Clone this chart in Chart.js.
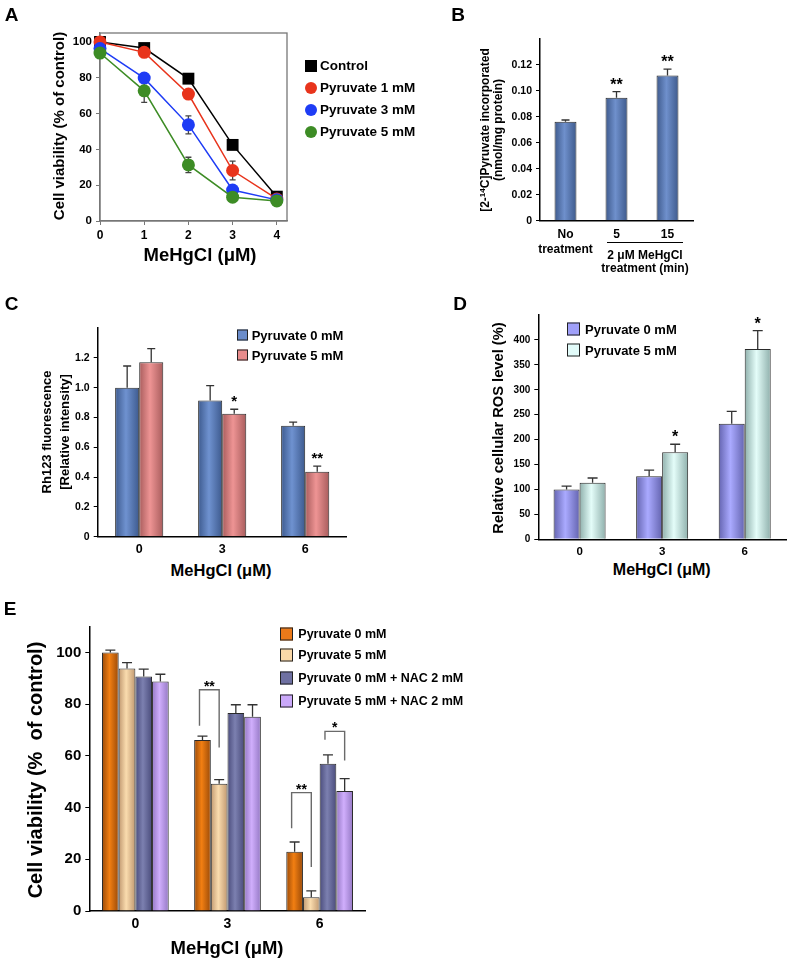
<!DOCTYPE html>
<html>
<head>
<meta charset="utf-8">
<title>MeHgCl and pyruvate</title>
<script src="https://cdn.jsdelivr.net/npm/chart.js"></script>
<style>
  body { margin: 0; background: #fff; }
  #fig { position: relative; width: 787px; height: 962px; font-family: "Liberation Sans", Arial, sans-serif; font-weight: bold; color: #000; overflow: hidden; }
  #fig canvas { position: absolute; }
  .t { position: absolute; white-space: pre; line-height: 1; transform: translate(-50%, -50%); }
  .rot { transform: translate(-50%, -50%) rotate(-90deg); }
  .leg { position: absolute; white-space: nowrap; line-height: 1; transform: translateY(-50%); }
  .sw { position: absolute; box-sizing: border-box; transform: translateY(-50%); }
</style>
</head>
<body>
<div id="fig">
  <canvas id="cA" width="400" height="262" style="left:0;top:0"></canvas>
  <canvas id="cB" width="387" height="280" style="left:400px;top:0"></canvas>
  <canvas id="cC" width="400" height="280" style="left:0;top:280px"></canvas>
  <canvas id="cD" width="387" height="280" style="left:400px;top:280px"></canvas>
  <canvas id="cE" width="560" height="382" style="left:0;top:580px"></canvas>
</div>
<script>
// ---- A: viability vs dose
const dosesA = [0, 1, 2, 3, 4];
const seriesA = ['Control', 'Pyruvate 1 mM', 'Pyruvate 3 mM', 'Pyruvate 5 mM'];
const controlA = [100, 96.6, 79.5, 42.5, 13.6];
const pyr1A = [100, 94.2, 70.9, 28.2, 12.3];
const pyr3A = [96.3, 79.8, 53.7, 17.3, 11.8];
const pyr5A = [93.8, 72.7, 31.3, 13.3, 11.2];
const controlErrA = [1, 1, 1.5, 1.5, 1];
const pyr1ErrA = [1, 1.5, 2, 5.2, 1];
const pyr3ErrA = [1, 1.5, 5, 2, 1];
const pyr5ErrA = [1, 6.5, 4.3, 1.5, 1];
const xTicksA = [0, 1, 2, 3, 4];
const yTicksA = [0, 20, 40, 60, 80, 100];

// ---- B: pyruvate uptake
const groupsB = [['No', 'treatment'], '5', '15'];
const uptakeB = [0.0763, 0.0948, 0.1118];
const uptakeErrB = [0.0013, 0.0046, 0.005];
const starsB = ['', '**', '**'];
const yTicksB = [0, 0.02, 0.04, 0.06, 0.08, 0.10, 0.12];

// ---- C: Rh123
const dosesC = ['0', '3', '6'];
const seriesC = ['Pyruvate 0 mM', 'Pyruvate 5 mM'];
const rh0C = [1.0, 0.914, 0.745];
const rh5C = [1.171, 0.825, 0.435];
const rh0ErrC = [0.145, 0.1, 0.024];
const rh5ErrC = [0.09, 0.03, 0.038];
const starsC = ['', '*', '**'];
const yTicksC = [0, 0.2, 0.4, 0.6, 0.8, 1.0, 1.2];

// ---- D: ROS
const dosesD = ['0', '3', '6'];
const seriesD = ['Pyruvate 0 mM', 'Pyruvate 5 mM'];
const ros0D = [100, 126.7, 232];
const ros5D = [113.3, 174.7, 382];
const ros0ErrD = [6.7, 12, 24.7];
const ros5ErrD = [9.7, 16, 36.7];
const starsD = ['', '*', '*'];
const yTicksD = [0, 50, 100, 150, 200, 250, 300, 350, 400];

// ---- E: viability with NAC
const dosesE = ['0', '3', '6'];
const seriesE = ['Pyruvate 0 mM', 'Pyruvate 5 mM', 'Pyruvate 0 mM + NAC 2 mM', 'Pyruvate 5 mM + NAC 2 mM'];
const via0E = [100, 66.2, 22.9];
const via5E = [93.8, 49.2, 5.3];
const viaNac0E = [90.7, 76.6, 57.0];
const viaNac5E = [88.8, 75.2, 46.4];
const via0ErrE = [0.9, 1.5, 3.8];
const via5ErrE = [2.3, 1.6, 2.5];
const viaNac0ErrE = [2.9, 3.2, 3.4];
const viaNac5ErrE = [2.8, 4.6, 4.8];
const yTicksE = [0, 20, 40, 60, 80, 100];
// significance brackets: group, left/right dataset, leg ends and top (in % units), label
const brGroupE = [1, 2, 2];
const brLeftE = [0, 0, 2];
const brRightE = [1, 1, 3];
const brLeftEndE = [71.7, 32, 66.3];
const brTopE = [85.6, 45.8, 69.5];
const brRightEndE = [63.3, 17, 58.2];
const brStarsE = ['**', '**', '*'];

const FAM = 'Liberation Sans';
const font = size => ({ family: FAM, size: size, weight: 'bold' });
const fig = document.getElementById('fig');

function text(str, x, y, size, rot) {
  const d = document.createElement('div');
  d.className = rot ? 't rot' : 't';
  d.style.left = x + 'px';
  d.style.top = y + 'px';
  d.style.fontSize = size + 'px';
  d.innerHTML = str;
  fig.appendChild(d);
}

function legend(x, tx, ys, labels, colors, size, box, round) {
  labels.forEach((lab, i) => {
    const s = document.createElement('div');
    s.className = 'sw';
    s.style.left = x + 'px';
    s.style.top = ys[i] + 'px';
    s.style.width = box + 'px';
    s.style.height = box + 'px';
    s.style.background = colors[i];
    if (round && round[i]) s.style.borderRadius = '50%';
    else if (!round) s.style.border = '1px solid #222';
    fig.appendChild(s);
    const d = document.createElement('div');
    d.className = 'leg';
    d.style.left = tx + 'px';
    d.style.top = ys[i] + 'px';
    d.style.fontSize = size + 'px';
    d.textContent = lab;
    fig.appendChild(d);
  });
}

// shaded cylinder look for bars
const barLook = {
  id: 'barLook',
  beforeDatasetsDraw(chart) {
    const c = chart.ctx;
    chart.data.datasets.forEach((ds, i) => {
      if (!ds.shade) return;
      chart.getDatasetMeta(i).data.forEach(el => {
        const g = c.createLinearGradient(el.x - el.width / 2, 0, el.x + el.width / 2, 0);
        g.addColorStop(0, ds.shade[0]);
        g.addColorStop(0.45, ds.shade[1]);
        g.addColorStop(1, ds.shade[0]);
        el.options = Object.assign({}, el.options, { backgroundColor: g });
      });
    });
  }
};

function drawWhiskers(chart, opts) {
  const c = chart.ctx, y = chart.scales.y;
  chart.data.datasets.forEach((ds, i) => {
    if (!ds.errors) return;
    chart.getDatasetMeta(i).data.forEach((el, j) => {
      const raw = ds.data[j];
      const v = typeof raw === 'object' ? raw.y : raw;
      const top = y.getPixelForValue(v + ds.errors[j]);
      const bot = opts.both ? y.getPixelForValue(v - ds.errors[j]) : el.y;
      const cap = opts.cap;
      c.save();
      c.strokeStyle = opts.color;
      c.lineWidth = 1.3;
      c.beginPath();
      c.moveTo(el.x, bot); c.lineTo(el.x, top);
      c.moveTo(el.x - cap, top); c.lineTo(el.x + cap, top);
      if (opts.both) { c.moveTo(el.x - cap, bot); c.lineTo(el.x + cap, bot); }
      c.stroke();
      if (ds.stars && ds.stars[j]) {
        c.fillStyle = '#000';
        c.font = 'bold ' + opts.starSize + 'px "' + FAM + '"';
        c.textAlign = 'center';
        c.textBaseline = 'alphabetic';
        c.fillText(ds.stars[j], el.x, top - opts.starGap);
      }
      c.restore();
    });
  });
}

const whiskers = {
  id: 'whiskers',
  beforeDatasetsDraw(chart, args, opts) { if (opts.behind) drawWhiskers(chart, opts); },
  afterDatasetsDraw(chart, args, opts) { if (!opts.behind) drawWhiskers(chart, opts); }
};

const frame = {
  id: 'frame',
  beforeDatasetsDraw(chart) {
    const a = chart.chartArea, c = chart.ctx;
    c.save();
    c.strokeStyle = '#777';
    c.lineWidth = 1.3;
    c.strokeRect(a.left, a.top, a.right - a.left, a.bottom - a.top);
    c.restore();
  }
};

const brackets = {
  id: 'brackets',
  afterDatasetsDraw(chart) {
    const c = chart.ctx, y = chart.scales.y;
    brStarsE.forEach((lab, k) => {
      const g = brGroupE[k];
      const xl = chart.getDatasetMeta(brLeftE[k]).data[g].x - 3;
      const xr = chart.getDatasetMeta(brRightE[k]).data[g].x;
      const yt = y.getPixelForValue(brTopE[k]);
      c.save();
      c.strokeStyle = '#6a6a6a';
      c.lineWidth = 1.4;
      c.beginPath();
      c.moveTo(xl, y.getPixelForValue(brLeftEndE[k]));
      c.lineTo(xl, yt);
      c.lineTo(xr, yt);
      c.lineTo(xr, y.getPixelForValue(brRightEndE[k]));
      c.stroke();
      c.fillStyle = '#000';
      c.font = 'bold 14px "' + FAM + '"';
      c.textAlign = 'center';
      c.fillText(lab, (xl + xr) / 2, yt + 1);
      c.restore();
    });
  }
};

function yAxis(min, max, ticks, width, size, fmt) {
  return {
    min: min, max: max,
    afterBuildTicks: s => { s.ticks = ticks.map(v => ({ value: v })); },
    afterFit: s => { s.width = width; },
    grid: { drawOnChartArea: false, tickLength: 4, color: '#000' },
    border: { color: '#000', width: 1.5 },
    ticks: { font: font(size), color: '#000', padding: 4, callback: fmt }
  };
}

function xCat(height, size, pad) {
  return {
    afterFit: s => { s.height = height; },
    grid: { display: false, drawTicks: false, tickLength: 0 },
    border: { display: true, color: '#000', width: 1.5 },
    ticks: { font: font(size), color: '#000', padding: pad, maxRotation: 0, autoSkip: false }
  };
}

function bars(label, data, errors, stars, edge, mid, cp) {
  return {
    label: label, data: data, errors: errors, stars: stars,
    shade: [edge, mid], backgroundColor: mid,
    borderColor: '#2a2a2a', borderWidth: 1,
    barPercentage: 1, categoryPercentage: cp
  };
}

const base = {
  responsive: false,
  animation: false,
  events: []
};

// ---------- A ----------
function lineSet(i, vals, errs, color, style, r) {
  return {
    label: seriesA[i],
    data: dosesA.map((d, k) => ({ x: d, y: vals[k] })),
    errors: errs,
    borderColor: color, backgroundColor: color,
    borderWidth: 1.5, pointStyle: style, pointRadius: r,
    pointBorderWidth: 0, clip: false, order: 3 - i
  };
}
new Chart(document.getElementById('cA'), {
  type: 'line',
  data: {
    datasets: [
      lineSet(0, controlA, controlErrA, '#000000', 'rect', 8.4),
      lineSet(1, pyr1A, pyr1ErrA, '#e8341c', 'circle', 6.5),
      lineSet(2, pyr3A, pyr3ErrA, '#1e3cf5', 'circle', 6.5),
      lineSet(3, pyr5A, pyr5ErrA, '#3d8c25', 'circle', 6.5)
    ]
  },
  options: Object.assign({}, base, {
    layout: { padding: { left: 0, top: 33, right: 113, bottom: 0 } },
    plugins: {
      legend: { display: false }, tooltip: { enabled: false },
      whiskers: { behind: true, both: true, cap: 3, color: '#444', starSize: 14, starGap: 2 }
    },
    scales: {
      x: {
        type: 'linear', min: 0, max: 4.23,
        afterBuildTicks: s => { s.ticks = xTicksA.map(v => ({ value: v })); },
        afterFit: s => { s.height = 41; },
        grid: { drawOnChartArea: false, tickLength: 4, color: '#777' },
        border: { color: '#777', width: 1.3 },
        ticks: { font: font(12), color: '#000', padding: 3 }
      },
      y: {
        min: 0, max: 105,
        afterBuildTicks: s => { s.ticks = yTicksA.map(v => ({ value: v })); },
        afterFit: s => { s.width = 100; },
        grid: { drawOnChartArea: false, tickLength: 4, color: '#777' },
        border: { color: '#777', width: 1.3 },
        ticks: { font: font(11.5), color: '#000', padding: 4 }
      }
    }
  }),
  plugins: [frame, whiskers]
});

// ---------- B ----------
new Chart(document.getElementById('cB'), {
  type: 'bar',
  data: {
    labels: groupsB,
    datasets: [Object.assign(bars('uptake', uptakeB, uptakeErrB, starsB, '#3e5a8c', '#6f90cc', 1), { barPercentage: 0.43 })]
  },
  options: Object.assign({}, base, {
    layout: { padding: { left: 0, top: 39, right: 94, bottom: 0 } },
    plugins: {
      legend: { display: false }, tooltip: { enabled: false },
      whiskers: { both: false, cap: 4, color: '#333', starSize: 16, starGap: 2 }
    },
    scales: {
      x: xCat(59.3, 12, 7),
      y: yAxis(0, 0.14, yTicksB, 140, 10.5, v => v === 0 ? '0' : v.toFixed(2))
    }
  }),
  plugins: [barLook, whiskers]
});

// ---------- C ----------
new Chart(document.getElementById('cC'), {
  type: 'bar',
  data: {
    labels: dosesC,
    datasets: [
      bars(seriesC[0], rh0C, rh0ErrC, null, '#3d5a8e', '#6f92d0', 0.58),
      bars(seriesC[1], rh5C, rh5ErrC, starsC, '#a85c5c', '#ee9494', 0.58)
    ]
  },
  options: Object.assign({}, base, {
    layout: { padding: { left: 0, top: 48, right: 53.3, bottom: 0 } },
    plugins: {
      legend: { display: false }, tooltip: { enabled: false },
      whiskers: { both: false, cap: 4, color: '#333', starSize: 15, starGap: 3 }
    },
    scales: {
      x: xCat(23.3, 12.5, 5),
      y: yAxis(0, 1.4, yTicksC, 97.7, 10.5, v => v === 0 ? '0' : v.toFixed(1))
    }
  }),
  plugins: [barLook, whiskers]
});

// ---------- D ----------
new Chart(document.getElementById('cD'), {
  type: 'bar',
  data: {
    labels: dosesD,
    datasets: [
      bars(seriesD[0], ros0D, ros0ErrD, null, '#6464b0', '#aaaaff', 0.63),
      bars(seriesD[1], ros5D, ros5ErrD, starsD, '#8fb0ac', '#e4fdf9', 0.63)
    ]
  },
  options: Object.assign({}, base, {
    layout: { padding: { left: 0, top: 35, right: 1, bottom: 0 } },
    plugins: {
      legend: { display: false }, tooltip: { enabled: false },
      whiskers: { both: false, cap: 5, color: '#333', starSize: 16, starGap: 2 }
    },
    scales: {
      x: xCat(20.7, 11.5, 6),
      y: yAxis(0, 450, yTicksD, 138.3, 10, v => String(v))
    }
  }),
  plugins: [barLook, whiskers]
});

// ---------- E ----------
new Chart(document.getElementById('cE'), {
  type: 'bar',
  data: {
    labels: dosesE,
    datasets: [
      bars(seriesE[0], via0E, via0ErrE, null, '#9a4a08', '#f27f12', 0.724),
      bars(seriesE[1], via5E, via5ErrE, null, '#c09870', '#fadcae', 0.724),
      bars(seriesE[2], viaNac0E, viaNac0ErrE, null, '#4a4c7c', '#7c80b0', 0.724),
      bars(seriesE[3], viaNac5E, viaNac5ErrE, null, '#9478c4', '#d0aefc', 0.724)
    ]
  },
  options: Object.assign({}, base, {
    layout: { padding: { left: 0, top: 46.7, right: 194.3, bottom: 0 } },
    plugins: {
      legend: { display: false }, tooltip: { enabled: false },
      whiskers: { both: false, cap: 5, color: '#333', starSize: 14, starGap: 2 }
    },
    scales: {
      x: xCat(51, 14, 5),
      y: yAxis(0, 110, yTicksE, 89.3, 15, v => String(v))
    }
  }),
  plugins: [barLook, whiskers, brackets]
});

// ---------- text ----------
text('A', 11.5, 13.5, 19);
text('B', 458, 13.5, 19);
text('C', 11.5, 302.5, 19);
text('D', 460, 302.5, 19);
text('E', 10, 607.5, 19);

text('Cell viability (% of control)', 58, 126, 15, true);
text('MeHgCl (μM)', 200, 255, 18.5);
legend(305, 320, [65.7, 88.3, 110, 132.3], seriesA, ['#000000', '#e8341c', '#1e3cf5', '#3d8c25'], 13.5, 12, [false, true, true, true]);

text('[2-<sup style="font-size:8px;vertical-align:4px">14</sup>C]Pyruvate incorporated', 485, 130, 12, true);
text('(nmol/mg protein)', 498, 130, 12, true);
const rule = document.createElement('div');
rule.style.cssText = 'position:absolute;left:607px;top:242px;width:76px;border-top:1.5px solid #000';
fig.appendChild(rule);
text('2 μM MeHgCl', 645, 255, 12);
text('treatment (min)', 645, 267.5, 12);

text('Rh123 fluorescence', 46, 432, 13, true);
text('[Relative intensity]', 64, 432, 13, true);
text('MeHgCl (μM)', 221, 570, 16.5);
legend(236.7, 251.7, [335, 355], seriesC, ['#6a8cca', '#e88c8c'], 13, 11);

text('Relative cellular ROS level (%)', 497.5, 427.5, 14.7, true);
text('MeHgCl (μM)', 661.7, 570, 16);
legend(566.7, 585, [329.3, 350], seriesD, ['#a0a0fa', '#e2fcfa'], 13, 13);

text('Cell viability (%  of control)', 35, 770, 20, true);
text('MeHgCl (μM)', 227, 948, 18.5);
legend(280, 298.3, [634, 655, 678.3, 700.7], seriesE, ['#ec7a1a', '#fad8a8', '#6e70a2', '#caa8fa'], 12.5, 13);
</script>
</body>
</html>
